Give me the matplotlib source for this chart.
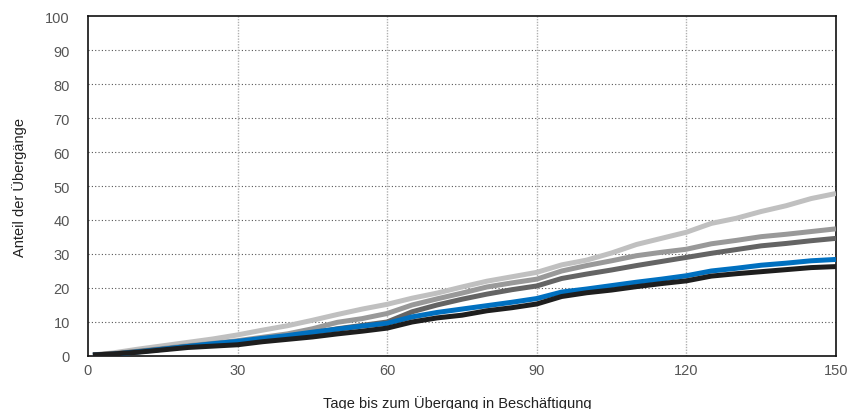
import matplotlib
matplotlib.use("Agg")
import matplotlib.pyplot as plt

plt.rcParams['font.family'] = ['Liberation Sans', 'DejaVu Sans']

days = [1, 5, 10, 15, 20, 25, 30, 35, 40, 45, 50, 55, 60, 65, 70, 75, 80, 85, 90,
        95, 100, 105, 110, 115, 120, 125, 130, 135, 140, 145, 150]

light_gray = [0.3, 0.9, 2.0, 3.0, 4.0, 5.0, 6.2, 7.6, 8.9, 10.5, 12.2, 13.8, 15.2, 17.0, 18.5,
              20.3, 22.0, 23.3, 24.6, 26.8, 28.2, 30.3, 32.8, 34.6, 36.4, 39.0, 40.5, 42.5,
              44.2, 46.3, 47.8]
mid_gray = [0.3, 0.7, 1.4, 2.2, 3.0, 3.7, 4.5, 5.5, 6.5, 8.0, 9.9, 11.0, 12.5, 15.0, 16.8,
            18.5, 20.3, 21.5, 22.6, 25.0, 26.6, 28.0, 29.5, 30.5, 31.4, 33.0, 34.0, 35.1,
            35.8, 36.6, 37.4]
dark_gray = [0.3, 0.6, 1.3, 2.0, 2.8, 3.4, 4.0, 5.0, 5.8, 6.8, 8.0, 9.0, 10.0, 13.0, 15.0,
             16.7, 18.2, 19.5, 20.6, 22.8, 24.1, 25.3, 26.6, 27.8, 29.0, 30.2, 31.3, 32.4,
             33.1, 33.9, 34.6]
blue = [0.2, 0.5, 1.2, 2.0, 2.8, 3.6, 4.3, 5.2, 6.0, 7.0, 7.9, 8.8, 9.6, 11.5, 12.8,
        13.8, 14.8, 15.8, 16.9, 18.8, 19.7, 20.7, 21.7, 22.6, 23.6, 25.0, 25.8, 26.7,
        27.3, 28.0, 28.4]
black = [0.3, 0.6, 1.1, 1.8, 2.5, 2.9, 3.3, 4.2, 4.9, 5.6, 6.5, 7.3, 8.2, 10.0, 11.2,
         12.0, 13.3, 14.2, 15.3, 17.5, 18.6, 19.4, 20.4, 21.3, 22.1, 23.5, 24.2, 24.8,
         25.4, 26.0, 26.3]

x_ticks = [0, 30, 60, 90, 120, 150]
y_ticks = [0, 10, 20, 30, 40, 50, 60, 70, 80, 90, 100]

fig = plt.figure(figsize=(8.59, 4.10), dpi=100)
ax = fig.add_axes([0.1024, 0.1293, 0.8708, 0.8292])

series = [(light_gray, '#c0c0c0'), (mid_gray, '#999999'), (dark_gray, '#646464'),
          (blue, '#0070c0'), (black, '#1e1e1e')]
for vals, col in series:
    ax.plot(days, vals, color=col, lw=3.6, solid_capstyle='butt', solid_joinstyle='round', zorder=3)

ax.set_xlim(0, 150)
ax.set_ylim(0, 100)
ax.set_xticks(x_ticks)
ax.set_yticks(y_ticks)
ax.tick_params(length=0, labelsize=10.5, colors='#555555')
ax.tick_params(axis='y', pad=13)
ax.tick_params(axis='x', pad=5)

for y in y_ticks[1:-1]:
    ax.axhline(y, color='#555555', lw=0.8, ls=(0, (1, 2)), zorder=1)
for x in x_ticks[1:-1]:
    ax.axvline(x, color='#b0b0b0', lw=1.0, ls=(0, (1, 1)), zorder=1)

for s in ax.spines.values():
    s.set_color('#111111')
    s.set_linewidth(1.2)

ax.set_ylabel('Anteil der Übergänge', fontsize=10.5, color='#222222', labelpad=13)
fig.text(0.5325, 0.017, 'Tage bis zum Übergang in Beschäftigung', fontsize=10.5,
         color='#222222', ha='center', va='center')

fig.savefig('out.png', dpi=100)
